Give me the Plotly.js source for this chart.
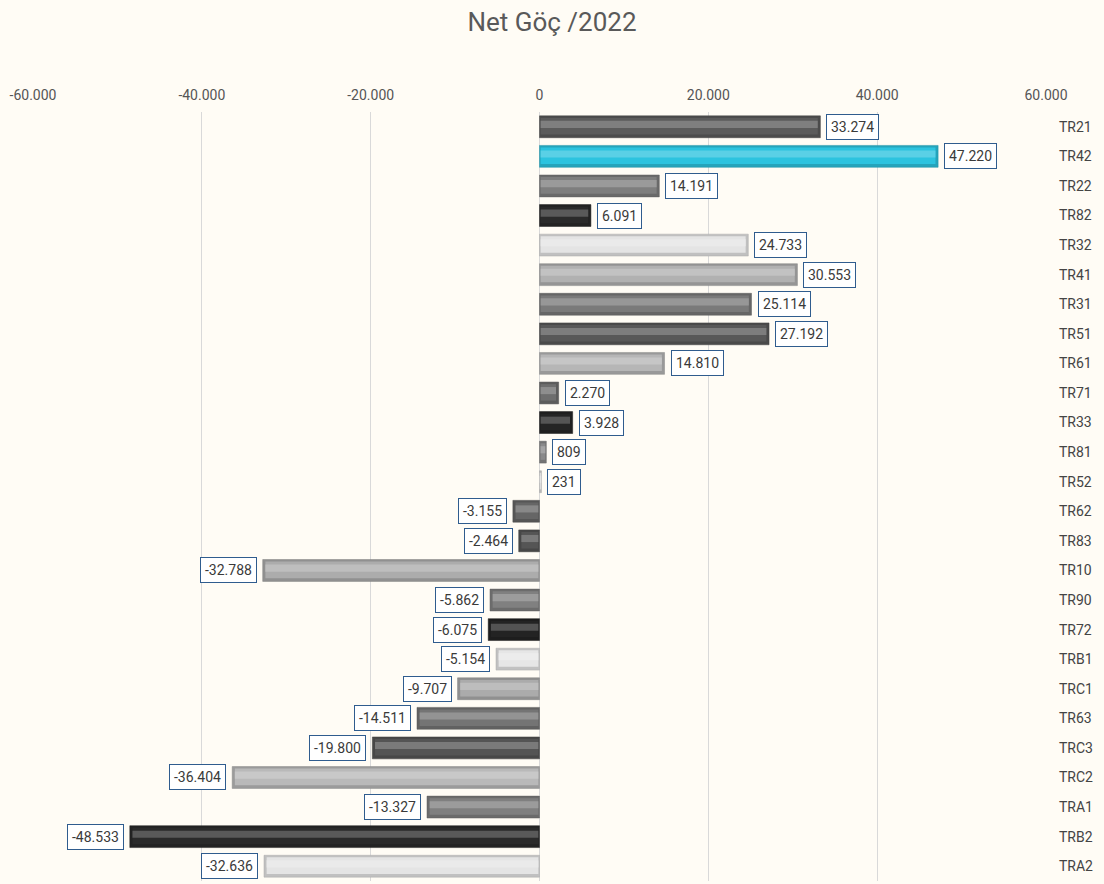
<!DOCTYPE html>
<html>
<head>
<meta charset="utf-8">
<script src="https://cdn.plot.ly/plotly-3.0.1.min.js"></script>
<style>
html,body{margin:0;padding:0;background:#fffcf5;}
#chart{width:1104px;height:884px;}
</style>
</head>
<body>
<div id="chart"></div>
<script>
const regions = ["TR21","TR42","TR22","TR82","TR32","TR41","TR31","TR51","TR61","TR71","TR33","TR81","TR52","TR62","TR83","TR10","TR90","TR72","TRB1","TRC1","TR63","TRC3","TRC2","TRA1","TRB2","TRA2"];
const netMigration = [33274,47220,14191,6091,24733,30553,25114,27192,14810,2270,3928,809,231,-3155,-2464,-32788,-5862,-6075,-5154,-9707,-14511,-19800,-36404,-13327,-48533,-32636];
const barColors = ["#5b5b5b","#2cc3df","#7e7e7e","#2a2a2a","#e4e4e4","#b1b1b1","#7a7a7a","#585858","#b6b6b6","#6e6e6e","#252525","#8a8a8a","#dcdcdc","#666666","#555555","#acacac","#808080","#232323","#e6e6e6","#ababab","#747474","#545454","#b9b9b9","#7f7f7f","#2a2a2a","#e4e4e4"];
const xTickVals = [-60000,-40000,-20000,0,20000,40000,60000];
const xTickText = ["-60.000","-40.000","-20.000","0","20.000","40.000","60.000"];
const chartTitle = "Net Göç /2022";

const FONT = "Roboto, 'Liberation Sans', sans-serif";

function fmt(v){
  const s = Math.abs(v).toString().replace(/\B(?=(\d{3})+(?!\d))/g, ".");
  return (v < 0 ? "-" : "") + s;
}
function shade(hex, f){
  const n = parseInt(hex.slice(1),16);
  let r=(n>>16)&255,g=(n>>8)&255,b=n&255;
  if(f>=0){r=r+(255-r)*f;g=g+(255-g)*f;b=b+(255-b)*f;}
  else{r=r*(1+f);g=g*(1+f);b=b*(1+f);}
  return "rgb("+Math.round(r)+","+Math.round(g)+","+Math.round(b)+")";
}

const inset = 450;
const hlX = netMigration.map(v => Math.abs(v) > 2*inset ? v - Math.sign(v)*inset : v*0.7);
const hlBase = netMigration.map(v => Math.abs(v) > 2*inset ? Math.sign(v)*inset*0.3 : v*0.15);

const traces = [
  { // rim
    type:"bar", orientation:"h", y:regions, x:netMigration,
    width:0.74, offset:-0.37,
    marker:{color:barColors.map(c=>shade(c,-0.16)), line:{color:barColors.map(c=>shade(c,-0.25)), width:0.5}},
    hoverinfo:"x+y", showlegend:false
  },
  { // body
    type:"bar", orientation:"h", y:regions, x:hlX, base:hlBase,
    width:0.56, offset:-0.3,
    marker:{color:barColors, line:{width:0}},
    hoverinfo:"skip", showlegend:false
  },
  { // highlight band
    type:"bar", orientation:"h", y:regions, x:hlX, base:hlBase,
    width:0.24, offset:-0.2,
    marker:{color:barColors.map(c=>shade(c,0.22)), line:{width:0}},
    hoverinfo:"skip", showlegend:false
  }
];

const annotations = netMigration.map((v,i)=>({
  x:v, y:regions[i], xref:"x", yref:"y",
  text:fmt(v), showarrow:false,
  xanchor: v>=0 ? "left" : "right",
  xshift: v>=0 ? 6 : -6,
  font:{family:FONT, size:14, color:"#3a3a3a"},
  bordercolor:"#2f5c8e", borderwidth:1, borderpad:4,
  bgcolor:"#ffffff"
}));

const layout = {
  width:1104, height:884,
  paper_bgcolor:"#fffcf5", plot_bgcolor:"#fffcf5",
  margin:{l:33, r:58, t:112, b:3},
  barmode:"overlay",
  title:{text:chartTitle, x:0.5, xanchor:"center", y:0.975, yanchor:"middle", font:{family:FONT, size:26, color:"#595959"}},
  xaxis:{
    range:[-60000,60000], side:"top", tickvals:xTickVals, ticktext:xTickText,
    showgrid:true, gridcolor:"#d9d9d9", gridwidth:1, zeroline:true, zerolinecolor:"#d9d9d9", zerolinewidth:1,
    showline:false, ticks:"", ticklabelstandoff:8,
    tickfont:{family:FONT, size:14, color:"#555555"}, fixedrange:true
  },
  yaxis:{
    type:"category", categoryorder:"array", categoryarray:regions, autorange:"reversed",
    side:"right", showgrid:false, zeroline:false, showline:false, ticks:"",
    ticklabelstandoff:12,
    tickfont:{family:FONT, size:14, color:"#444444"}, fixedrange:true
  },
  annotations:annotations,
  font:{family:FONT}
};

Plotly.newPlot("chart", traces, layout, {displayModeBar:false, staticPlot:true});
</script>
</body>
</html>
